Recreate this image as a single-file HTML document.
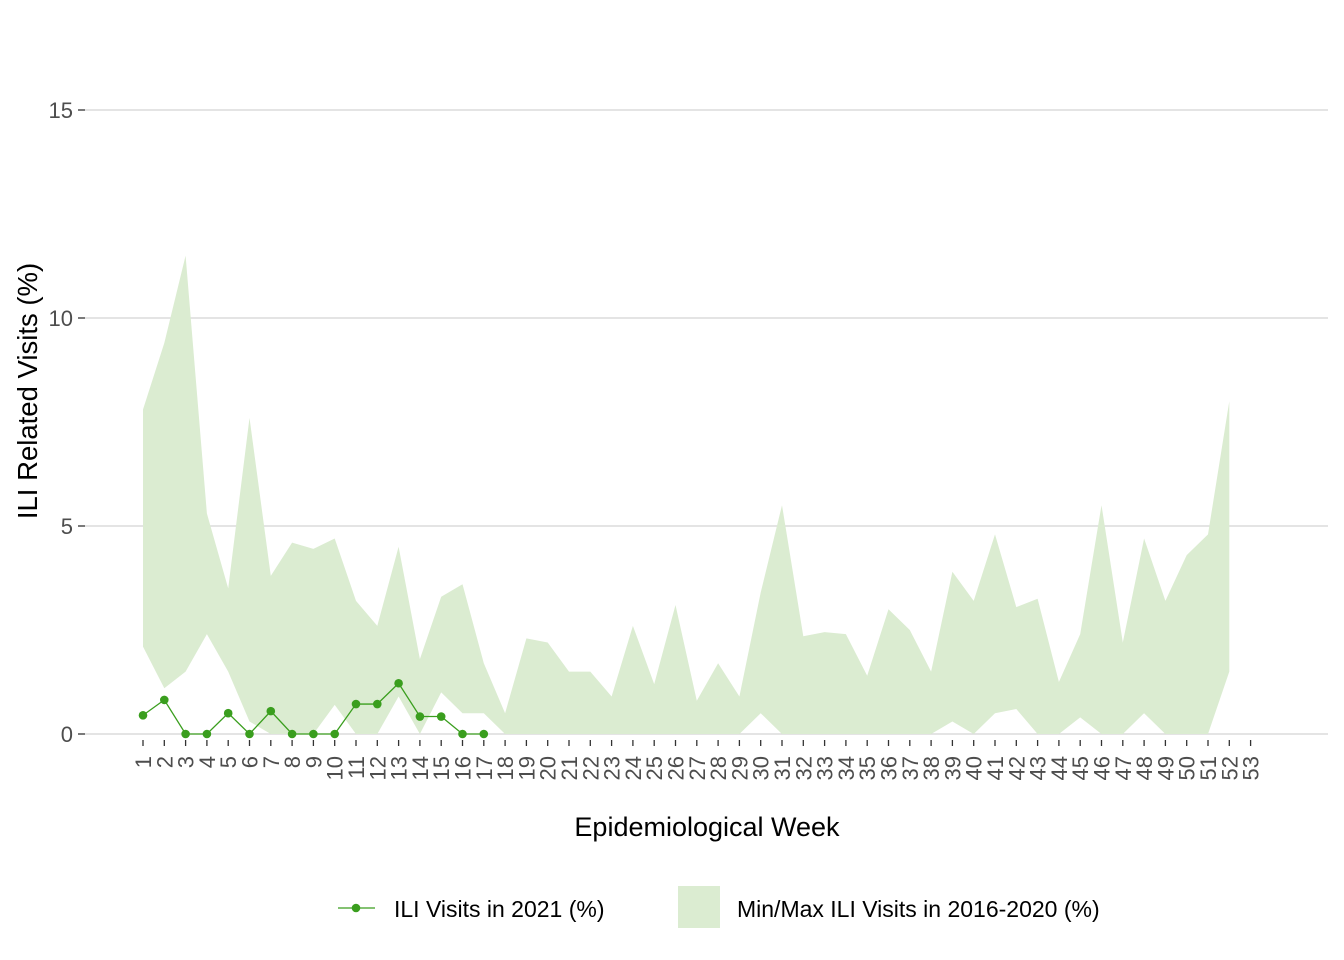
<!DOCTYPE html>
<html><head><meta charset="utf-8"><style>
html,body{margin:0;padding:0;background:#fff;}
svg{display:block;font-family:"Liberation Sans",Arial,sans-serif;}
</style></head><body>
<svg id="s" width="1344" height="960" viewBox="0 0 1344 960" xmlns="http://www.w3.org/2000/svg"></svg>
<script>
var up=[7.8,9.4,11.5,5.3,3.5,7.6,3.8,4.6,4.45,4.7,3.2,2.6,4.5,1.8,3.3,3.6,1.7,0.5,2.3,2.2,1.5,1.5,0.9,2.6,1.2,3.1,0.8,1.7,0.9,3.4,5.5,2.35,2.45,2.4,1.4,3.0,2.5,1.5,3.9,3.2,4.8,3.05,3.25,1.25,2.4,5.5,2.2,4.7,3.2,4.3,4.8,8.0];
var lo=[2.1,1.1,1.5,2.4,1.5,0.3,0,0,0,0.7,0,0,0.9,0,1.0,0.5,0.5,0,0,0,0,0,0,0,0,0,0,0,0,0.5,0,0,0,0,0,0,0,0,0.3,0,0.5,0.6,0,0,0.4,0,0,0.5,0,0,0,1.5];
var ln=[0.45,0.82,0,0,0.5,0,0.55,0,0,0,0.72,0.72,1.22,0.42,0.42,0,0];
function X(w){return 143+(w-1)*21.3;}
function Y(v){return 734-v*41.6;}
var h='';
[0,5,10,15].forEach(function(v){var y=Y(v);
h+='<line x1="85" x2="1328" y1="'+y+'" y2="'+y+'" stroke="#d4d4d4" stroke-width="1.3"/>';
h+='<line x1="78" x2="85" y1="'+y+'" y2="'+y+'" stroke="#333" stroke-width="1.3"/>';
h+='<text x="73" y="'+(y+8)+'" text-anchor="end" font-size="22" fill="#4d4d4d">'+v+'</text>';});
var p='';for(var i=0;i<52;i++)p+=X(i+1)+','+Y(up[i])+' ';for(i=51;i>=0;i--)p+=X(i+1)+','+Y(lo[i])+' ';
h+='<polygon points="'+p+'" fill="#dbecd1"/>';
for(var w=1;w<=53;w++){var x=X(w);
h+='<line x1="'+x+'" x2="'+x+'" y1="740" y2="746" stroke="#333" stroke-width="1.3"/>';
h+='<text transform="translate('+(x+8)+',756) rotate(-90)" text-anchor="end" font-size="22" fill="#4d4d4d">'+w+'</text>';}
var q='';ln.forEach(function(v,i){q+=X(i+1)+','+Y(v)+' ';});
h+='<polyline points="'+q+'" fill="none" stroke="#3a9e1e" stroke-width="1.3"/>';
ln.forEach(function(v,i){h+='<circle cx="'+X(i+1)+'" cy="'+Y(v)+'" r="4.3" fill="#3a9e1e"/>';});
h+='<text x="707" y="836" text-anchor="middle" font-size="27" fill="#000">Epidemiological Week</text>';
h+='<text transform="translate(37,391) rotate(-90)" text-anchor="middle" font-size="27.5" fill="#000">ILI Related Visits (%)</text>';
h+='<line x1="338" x2="375" y1="908" y2="908" stroke="#3a9e1e" stroke-width="1.3"/><circle cx="356" cy="908" r="4.3" fill="#3a9e1e"/>';
h+='<text x="394" y="917" font-size="23" fill="#000">ILI Visits in 2021 (%)</text>';
h+='<rect x="678" y="886" width="42" height="42" fill="#dbecd1"/>';
h+='<text x="737" y="917" font-size="23" fill="#000">Min/Max ILI Visits in 2016-2020 (%)</text>';
document.getElementById('s').innerHTML=h;
</script>
</body></html>
